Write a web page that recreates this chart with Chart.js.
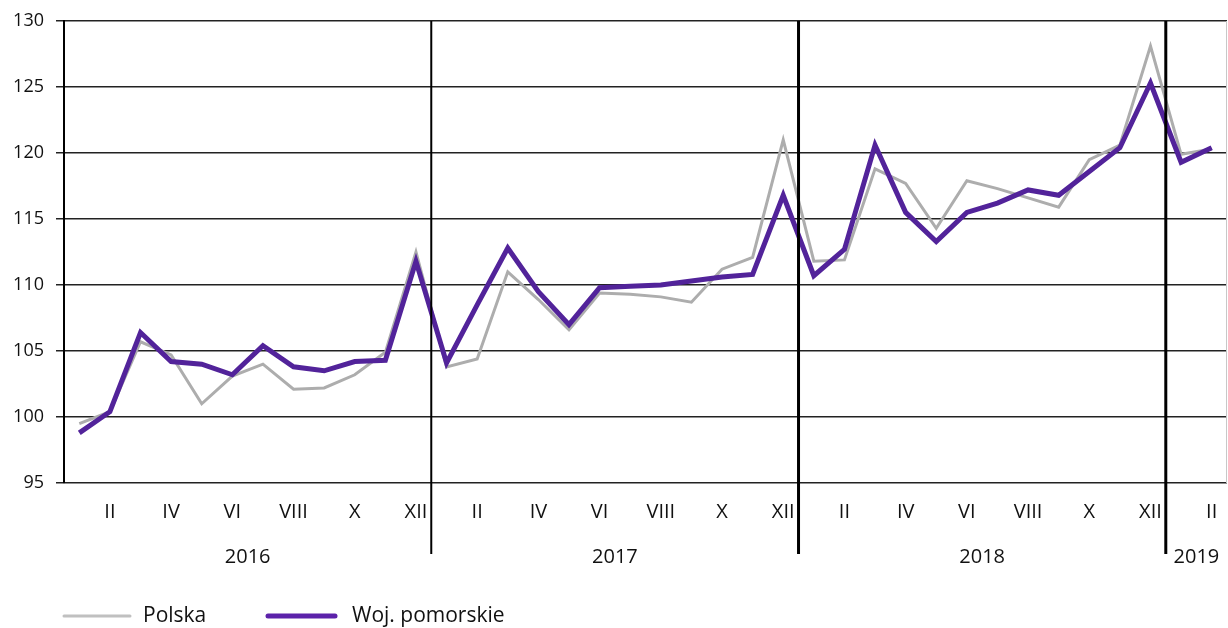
<!DOCTYPE html>
<html>
<head>
<meta charset="utf-8">
<script src="https://cdn.jsdelivr.net/npm/chart.js@4.4.0/dist/chart.umd.min.js"></script>
<style>
  html, body { margin:0; padding:0; background:#fff; }
  #wrap { position:relative; width:1228px; height:628px; }
</style>
</head>
<body>
<div id="wrap"><canvas id="c" width="1228" height="628"></canvas></div>
<script>
// months Jan 2016 .. Feb 2019
const roman = ['I','II','III','IV','V','VI','VII','VIII','IX','X','XI','XII'];
const years = ['2016', '2017', '2018', '2019'];
const monthsPerYear = [12, 12, 12, 2];

const polska = [
    99.5, 100.4, 105.7, 104.7, 101.0, 103.1, 104.0, 102.1, 102.2, 103.2, 104.9, 112.5,
    103.8, 104.4, 111.0, 108.9, 106.6, 109.4, 109.3, 109.1, 108.7, 111.2, 112.1, 121.0,
    111.8, 111.9, 118.8, 117.7, 114.3, 117.9, 117.3, 116.6, 115.9, 119.5, 120.6, 128.1,
    119.9, 120.3
];
const pomorskie = [
    98.8, 100.4, 106.4, 104.2, 104.0, 103.2, 105.4, 103.8, 103.5, 104.2, 104.3, 111.8,
    104.1, 108.5, 112.8, 109.5, 107.0, 109.8, 109.9, 110.0, 110.3, 110.6, 110.8, 116.8,
    110.7, 112.7, 120.6, 115.5, 113.3, 115.5, 116.2, 117.2, 116.8, 118.6, 120.4, 125.3,
    119.3, 120.4
];

const labels = [];
years.forEach((y, yi) => {
    for (let m = 0; m < monthsPerYear[yi]; m++) labels.push(roman[m]);
});

const FONT = '"Open Sans", sans-serif';

const extras = {
    id: 'extras',
    afterDraw(chart) {
        const ctx = chart.ctx;
        const x = chart.scales.x;
        const area = chart.chartArea;
        ctx.save();

        // light right edge
        ctx.strokeStyle = '#c8c8c8';
        ctx.lineWidth = 1;
        ctx.beginPath();
        ctx.moveTo(area.right - 0.5, area.top);
        ctx.lineTo(area.right - 0.5, area.bottom);
        ctx.stroke();

        // year dividers + year labels
        let start = 0;
        const widths = [2, 3, 3];
        years.forEach((y, yi) => {
            const end = start + monthsPerYear[yi] - 1;
            const left = start === 0 ? area.left : (x.getPixelForValue(start - 1) + x.getPixelForValue(start)) / 2;
            const right = yi === years.length - 1 ? area.right : (x.getPixelForValue(end) + x.getPixelForValue(end + 1)) / 2;
            if (yi < years.length - 1) {
                ctx.strokeStyle = '#000';
                ctx.lineWidth = widths[yi];
                ctx.beginPath();
                ctx.moveTo(right, area.top);
                ctx.lineTo(right, 554);
                ctx.stroke();
            }
            ctx.fillStyle = '#111';
            ctx.font = '20px ' + FONT;
            ctx.textAlign = 'center';
            ctx.textBaseline = 'middle';
            const cx = yi === years.length - 1 ? (x.getPixelForValue(start) + x.getPixelForValue(end)) / 2 : (left + right) / 2;
            ctx.fillText(y, cx, 557);
            start = end + 1;
        });

        // legend
        const items = [
            { text: 'Polska', color: '#c0c0c0', w: 3, x0: 64, x1: 130, tx: 143 },
            { text: 'Woj. pomorskie', color: '#5c22aa', w: 5, x0: 268, x1: 335, tx: 352 }
        ];
        items.forEach(it => {
            ctx.strokeStyle = it.color;
            ctx.lineWidth = it.w;
            ctx.lineCap = 'round';
            ctx.beginPath();
            ctx.moveTo(it.x0, 616);
            ctx.lineTo(it.x1, 616);
            ctx.stroke();
            ctx.fillStyle = '#111';
            ctx.textAlign = 'left';
            ctx.textBaseline = 'middle';
            ctx.font = '21px ' + FONT;
            ctx.fillText(it.text, it.tx, 616);
        });
        ctx.restore();
    }
};

new Chart(document.getElementById('c'), {
    type: 'line',
    data: {
        labels: labels,
        datasets: [
            {
                label: 'Woj. pomorskie',
                data: pomorskie,
                borderColor: '#52239a',
                borderWidth: 5,
                pointRadius: 0,
                tension: 0,
                order: 1
            },
            {
                label: 'Polska',
                data: polska,
                borderColor: '#adadad',
                borderWidth: 3,
                pointRadius: 0,
                tension: 0,
                order: 2
            }
        ]
    },
    options: {
        responsive: false,
        animation: false,
        layout: { padding: { left: 0, right: 1, top: 21, bottom: 0 } },
        plugins: {
            legend: { display: false },
            tooltip: { enabled: false }
        },
        scales: {
            x: {
                offset: true,
                grid: { display: false, drawTicks: false },
                border: { display: false },
                ticks: {
                    autoSkip: false,
                    maxRotation: 0,
                    padding: 17,
                    color: '#111',
                    font: { family: FONT, size: 20 },
                    callback: (v, i) => (i % 2 === 1 ? labels[i] : '')
                },
                afterFit: s => {
                    s.height = 145;
                    s.paddingLeft = 0;
                    s.paddingRight = 0;
                }
            },
            y: {
                min: 95,
                max: 130,
                ticks: {
                    stepSize: 5,
                    padding: 12,
                    color: '#111',
                    font: { family: FONT, size: 18 }
                },
                grid: { color: '#222', lineWidth: 1.5, tickLength: 8 },
                border: { display: true, color: '#000', width: 2 },
                afterFit: s => {
                    s.width = 64;
                    s.paddingTop = 0;
                    s.paddingBottom = 0;
                }
            }
        }
    },
    plugins: [extras]
});
</script>
</body>
</html>
